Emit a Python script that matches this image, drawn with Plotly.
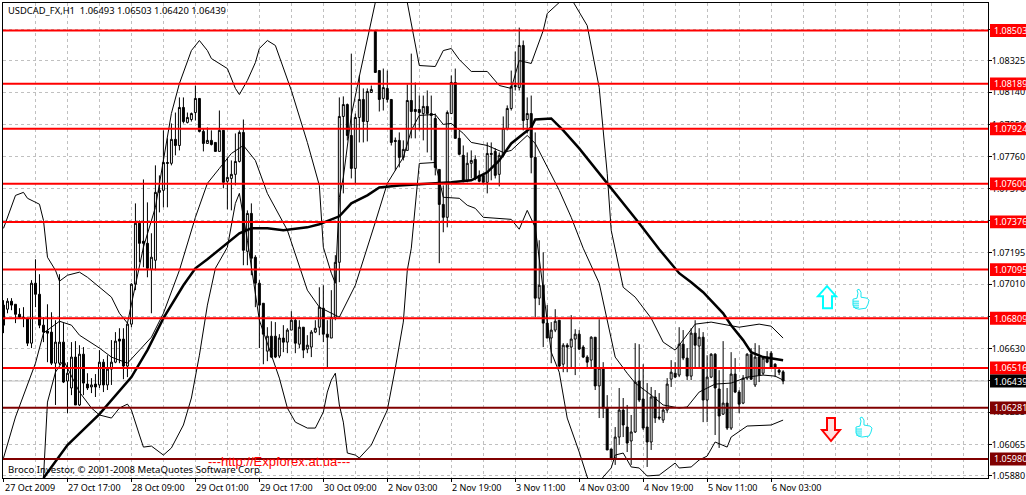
import plotly.graph_objects as go

# USDCAD H1 bars
opens = [1.06886, 1.06862, 1.06909, 1.06891, 1.06832, 1.06815, 1.06809, 1.06662, 1.07015, 1.06950, 1.06768, 1.06733, 1.06727, 1.06544, 1.06544, 1.06668,
         1.06439, 1.06398, 1.06580, 1.06298, 1.06597, 1.06421, 1.06404, 1.06421, 1.06416, 1.06550, 1.06416, 1.06509, 1.06550, 1.06686, 1.06686, 1.06527,
         1.06774, 1.07009, 1.07368, 1.07262, 1.07250, 1.07097, 1.07150, 1.07550, 1.07562, 1.07726, 1.07721, 1.07862, 1.07826, 1.08050, 1.07962, 1.07979,
         1.08020, 1.08103, 1.07909, 1.07838, 1.07856, 1.07844, 1.07791, 1.07915, 1.07615, 1.07632, 1.07656, 1.07732, 1.07903, 1.07203, 1.07426, 1.07168,
         1.07015, 1.06897, 1.06615, 1.06703, 1.06703, 1.06586, 1.06692, 1.06668, 1.06739, 1.06797, 1.06656, 1.06756, 1.06627, 1.06639, 1.06727, 1.06756,
         1.06868, 1.06715, 1.06692, 1.06815, 1.07138, 1.07997, 1.08067, 1.07885, 1.07691, 1.07991, 1.08097, 1.07967, 1.08138, 1.08497, 1.08267, 1.08103,
         1.08162, 1.08097, 1.07856, 1.07856, 1.07756, 1.07797, 1.08091, 1.08038, 1.08038, 1.08014, 1.08056, 1.08014, 1.07985, 1.07685, 1.07479, 1.07403,
         1.08014, 1.08197, 1.07868, 1.07768, 1.07621, 1.07721, 1.07744, 1.07650, 1.07650, 1.07609, 1.07779, 1.07791, 1.07656, 1.07768, 1.07927, 1.08044,
         1.08179, 1.08167, 1.08415, 1.07979, 1.08014, 1.07756, 1.06927, 1.07003, 1.06780, 1.06692, 1.06739, 1.06797, 1.06538, 1.06650, 1.06639, 1.06686,
         1.06715, 1.06639, 1.06580, 1.06562, 1.06697, 1.06410, 1.06515, 1.06280, 1.06039, 1.05986, 1.06109, 1.06268, 1.06168, 1.06086, 1.06139, 1.06439,
         1.06333, 1.06168, 1.06080, 1.06345, 1.06227, 1.06209, 1.06268, 1.06450, 1.06485, 1.06474, 1.06656, 1.06574, 1.06468, 1.06721, 1.06645, 1.06697,
         1.06327, 1.06462, 1.06597, 1.06392, 1.06244, 1.06309, 1.06162, 1.06480, 1.06374, 1.06309, 1.06456, 1.06597, 1.06416, 1.06580, 1.06485, 1.06580,
         1.06603, 1.06538, 1.06503, 1.06493]
highs = [1.06915, 1.06927, 1.06927, 1.06891, 1.06868, 1.06874, 1.06809, 1.07033, 1.07156, 1.07068, 1.06815, 1.06891, 1.06844, 1.06797, 1.07068, 1.06780,
         1.06550, 1.06668, 1.06674, 1.06650, 1.06639, 1.06485, 1.06456, 1.06480, 1.06621, 1.06568, 1.06591, 1.06680, 1.06727, 1.06750, 1.06750, 1.06786,
         1.07015, 1.07485, 1.07385, 1.07626, 1.07491, 1.07309, 1.07709, 1.07650, 1.07915, 1.07868, 1.07956, 1.08020, 1.08109, 1.08109, 1.08020, 1.08020,
         1.08179, 1.08103, 1.07927, 1.07932, 1.07915, 1.07844, 1.08032, 1.07915, 1.07756, 1.07738, 1.07897, 1.07915, 1.07979, 1.07444, 1.07485, 1.07180,
         1.07033, 1.06897, 1.06756, 1.06791, 1.06786, 1.06715, 1.06768, 1.06750, 1.06850, 1.06809, 1.06797, 1.06756, 1.06709, 1.06739, 1.06797, 1.06991,
         1.07003, 1.06797, 1.06974, 1.07180, 1.08109, 1.08115, 1.08073, 1.08367, 1.08014, 1.08238, 1.08162, 1.08162, 1.08179, 1.08503, 1.08267, 1.08279,
         1.08267, 1.08097, 1.07873, 1.07903, 1.07856, 1.08185, 1.08367, 1.08197, 1.08120, 1.08120, 1.08150, 1.08120, 1.08014, 1.07685, 1.07591, 1.08032,
         1.08238, 1.08279, 1.07915, 1.07826, 1.07785, 1.07797, 1.07768, 1.07679, 1.07662, 1.07844, 1.07844, 1.07809, 1.07785, 1.07997, 1.08062, 1.08267,
         1.08379, 1.08520, 1.08444, 1.08109, 1.08120, 1.07903, 1.07268, 1.07197, 1.06886, 1.06786, 1.06862, 1.06797, 1.06662, 1.06662, 1.06827, 1.06744,
         1.06739, 1.06650, 1.06591, 1.06703, 1.06697, 1.06803, 1.06550, 1.06356, 1.06039, 1.06168, 1.06398, 1.06339, 1.06298, 1.06239, 1.06662, 1.06656,
         1.06538, 1.06427, 1.06404, 1.06386, 1.06368, 1.06286, 1.06456, 1.06562, 1.06550, 1.06756, 1.06739, 1.06633, 1.06750, 1.06797, 1.06750, 1.06727,
         1.06591, 1.06603, 1.06603, 1.06503, 1.06674, 1.06398, 1.06609, 1.06574, 1.06386, 1.06474, 1.06603, 1.06633, 1.06662, 1.06650, 1.06580, 1.06615,
         1.06615, 1.06544, 1.06521, 1.06503]
lows = [1.06721, 1.06838, 1.06856, 1.06780, 1.06809, 1.06756, 1.06645, 1.06633, 1.06874, 1.06750, 1.06668, 1.06550, 1.06533, 1.06298, 1.06533, 1.06427,
        1.06250, 1.06356, 1.06298, 1.06292, 1.06356, 1.06386, 1.06368, 1.06345, 1.06398, 1.06374, 1.06386, 1.06416, 1.06544, 1.06544, 1.06450, 1.06462,
        1.06756, 1.06974, 1.07138, 1.07109, 1.07050, 1.06838, 1.07091, 1.07432, 1.07462, 1.07462, 1.07709, 1.07768, 1.07797, 1.07956, 1.07956, 1.07967,
        1.07973, 1.07903, 1.07791, 1.07838, 1.07826, 1.07791, 1.07791, 1.07574, 1.07450, 1.07444, 1.07591, 1.07726, 1.07121, 1.07121, 1.07062, 1.06874,
        1.06633, 1.06538, 1.06556, 1.06574, 1.06574, 1.06574, 1.06609, 1.06603, 1.06739, 1.06603, 1.06633, 1.06574, 1.06603, 1.06580, 1.06721, 1.06709,
        1.06668, 1.06515, 1.06692, 1.06797, 1.07021, 1.07544, 1.07856, 1.07632, 1.07603, 1.07844, 1.07844, 1.07850, 1.08138, 1.08256, 1.08026, 1.08032,
        1.08079, 1.07826, 1.07679, 1.07697, 1.07738, 1.07797, 1.07868, 1.07868, 1.07915, 1.07856, 1.07785, 1.07738, 1.07650, 1.07133, 1.07315, 1.07344,
        1.08014, 1.07868, 1.07768, 1.07609, 1.07609, 1.07632, 1.07621, 1.07609, 1.07609, 1.07544, 1.07621, 1.07632, 1.07585, 1.07756, 1.07915, 1.08032,
        1.08150, 1.08150, 1.07915, 1.07897, 1.07662, 1.06815, 1.06886, 1.06639, 1.06692, 1.06544, 1.06727, 1.06521, 1.06491, 1.06491, 1.06515, 1.06474,
        1.06621, 1.06574, 1.06515, 1.06515, 1.06386, 1.06221, 1.06221, 1.06033, 1.05980, 1.05945, 1.06062, 1.06109, 1.06021, 1.05945, 1.06133, 1.06315,
        1.06151, 1.05933, 1.06033, 1.06192, 1.06209, 1.06192, 1.06250, 1.06404, 1.06456, 1.06462, 1.06562, 1.06445, 1.06445, 1.06515, 1.06521, 1.06197,
        1.06197, 1.06456, 1.06121, 1.06045, 1.06239, 1.06151, 1.06151, 1.06368, 1.06250, 1.06303, 1.06445, 1.06445, 1.06404, 1.06433, 1.06474, 1.06544,
        1.06521, 1.06462, 1.06474, 1.06420]
closes = [1.06768, 1.06909, 1.06886, 1.06832, 1.06815, 1.06809, 1.06662, 1.07015, 1.06950, 1.06768, 1.06727, 1.06721, 1.06544, 1.06668, 1.06668, 1.06433,
          1.06485, 1.06580, 1.06298, 1.06597, 1.06427, 1.06398, 1.06416, 1.06404, 1.06550, 1.06416, 1.06509, 1.06550, 1.06674, 1.06674, 1.06527, 1.06774,
          1.07009, 1.07368, 1.07250, 1.07250, 1.07103, 1.07168, 1.07550, 1.07562, 1.07726, 1.07721, 1.07862, 1.07826, 1.08050, 1.07967, 1.07991, 1.08014,
          1.08103, 1.07909, 1.07838, 1.07856, 1.07832, 1.07791, 1.07915, 1.07609, 1.07638, 1.07656, 1.07732, 1.07903, 1.07209, 1.07426, 1.07162, 1.07015,
          1.06886, 1.06715, 1.06703, 1.06580, 1.06580, 1.06692, 1.06668, 1.06739, 1.06797, 1.06662, 1.06756, 1.06621, 1.06650, 1.06727, 1.06750, 1.06874,
          1.06715, 1.06697, 1.06815, 1.07138, 1.07997, 1.08067, 1.07885, 1.07691, 1.07991, 1.08097, 1.07967, 1.08144, 1.08156, 1.08256, 1.08097, 1.08167,
          1.08097, 1.07844, 1.07850, 1.07756, 1.07803, 1.08091, 1.08026, 1.08026, 1.08020, 1.08056, 1.08014, 1.08003, 1.07697, 1.07479, 1.07403, 1.08020,
          1.08197, 1.07868, 1.07774, 1.07615, 1.07721, 1.07738, 1.07632, 1.07615, 1.07609, 1.07779, 1.07774, 1.07650, 1.07768, 1.07927, 1.08044, 1.08173,
          1.08173, 1.08415, 1.07973, 1.08014, 1.07756, 1.06927, 1.07003, 1.06780, 1.06692, 1.06739, 1.06791, 1.06527, 1.06650, 1.06639, 1.06686, 1.06715,
          1.06627, 1.06580, 1.06550, 1.06697, 1.06410, 1.06515, 1.06280, 1.06033, 1.05986, 1.06109, 1.06268, 1.06180, 1.06074, 1.06139, 1.06433, 1.06327,
          1.06162, 1.06080, 1.06345, 1.06221, 1.06221, 1.06268, 1.06421, 1.06491, 1.06462, 1.06656, 1.06574, 1.06468, 1.06721, 1.06650, 1.06697, 1.06327,
          1.06462, 1.06597, 1.06398, 1.06233, 1.06309, 1.06162, 1.06480, 1.06374, 1.06303, 1.06456, 1.06597, 1.06450, 1.06580, 1.06474, 1.06574, 1.06550,
          1.06521, 1.06515, 1.06491, 1.06439]

# thick moving average
ma_bars = [10, 14, 16, 24, 32, 36, 40, 45, 48, 51, 54, 59, 62, 66, 70, 76, 79, 84, 87, 91, 94, 99, 104, 109, 112, 117, 121, 124, 127, 132, 133, 137,
           140, 144, 147, 151, 155, 159, 164, 169, 172, 175, 180, 182, 185, 187, 190, 195]
ma_vals = [1.05868, 1.05998, 1.06062, 1.06244, 1.06462, 1.06621, 1.06809, 1.07003, 1.07103, 1.07156, 1.07215, 1.07309, 1.07338, 1.07338, 1.07327,
           1.07344, 1.07362, 1.07409, 1.07485, 1.07532, 1.07579, 1.07591, 1.07597, 1.07603, 1.07609, 1.07621, 1.07668, 1.07738, 1.07838, 1.07932, 1.07979,
           1.07985, 1.07915, 1.07809, 1.07721, 1.07609, 1.07491, 1.07368, 1.07215, 1.07074, 1.07021, 1.06962, 1.06838, 1.06768, 1.06680, 1.06609, 1.06580, 1.06562]

# thin bands
upper_bars = [0, 2, 3, 5, 6, 9, 10, 11, 13, 14, 16, 19, 21, 27, 29, 31, 34, 35, 38, 42, 44, 47, 49, 51, 52, 54, 56, 58, 59, 61, 63, 64, 66, 68, 72, 76,
              79, 80, 82, 83, 84, 85, 87, 89, 91, 92, 93, 97, 101, 104, 108, 110, 112, 114, 117, 121, 124, 127, 129, 132, 135, 136, 139, 142, 146, 149,
              151, 152, 154, 155, 158, 160, 162, 165, 168, 169, 173, 177, 184, 189, 192, 195]
upper_vals = [1.07338, 1.07474, 1.07532, 1.07550, 1.07515, 1.07480, 1.07385, 1.07168, 1.07091, 1.07027, 1.07062, 1.07080, 1.07050, 1.06933, 1.06838,
              1.06780, 1.07109, 1.07227, 1.07462, 1.08015, 1.08191, 1.08385, 1.08444, 1.08385, 1.08338, 1.08309, 1.08279, 1.08162, 1.08126, 1.08209,
              1.08314, 1.08397, 1.08444, 1.08415, 1.08150, 1.07844, 1.07591, 1.07227, 1.07074, 1.07015, 1.07520, 1.07638, 1.08003, 1.08232, 1.08444,
              1.08562, 1.08668, 1.08826, 1.08668, 1.08297, 1.08291, 1.08385, 1.08397, 1.08332, 1.08262, 1.08262, 1.08179, 1.08162, 1.08326, 1.08309,
              1.08503, 1.08603, 1.08668, 1.08691, 1.08532, 1.08167, 1.07662, 1.07327, 1.07103, 1.06991, 1.06933, 1.06874, 1.06809, 1.06668, 1.06621,
              1.06650, 1.06774, 1.06786, 1.06756, 1.06774, 1.06762, 1.06692]
mid_bars = [0, 3, 8, 10, 12, 14, 17, 19, 24, 27, 31, 34, 37, 40, 44, 48, 51, 54, 57, 60, 63, 66, 71, 76, 79, 84, 88, 93, 96, 100, 102, 104, 108, 110, 112,
            115, 117, 121, 125, 127, 131, 133, 136, 139, 142, 145, 149, 151, 153, 156, 158, 162, 165, 169, 171, 174, 178, 182, 186, 190, 193, 195]
mid_vals = [1.05986, 1.06227, 1.06544, 1.06721, 1.06756, 1.06791, 1.06768, 1.06709, 1.06633, 1.06580, 1.06544, 1.06621, 1.06697, 1.06838, 1.07091, 1.07403,
            1.07603, 1.07691, 1.07779, 1.07826, 1.07738, 1.07544, 1.07327, 1.06974, 1.06874, 1.06815, 1.07003, 1.07374, 1.07603, 1.07756, 1.07915, 1.08003,
            1.08009, 1.07950, 1.07956, 1.07897, 1.07844, 1.07826, 1.07785, 1.07797, 1.07885, 1.07838, 1.07697, 1.07562, 1.07403, 1.07221, 1.07015, 1.06797,
            1.06580, 1.06485, 1.06427, 1.06356, 1.06298, 1.06280, 1.06286, 1.06374, 1.06421, 1.06427, 1.06462, 1.06474, 1.06468, 1.06445]
lower_bars = [8, 10, 11, 13, 15, 19, 22, 24, 27, 29, 31, 32, 34, 35, 37, 39, 40, 42, 45, 47, 49, 51, 53, 56, 58, 59, 61, 64, 67, 69, 71, 73, 76, 78, 80, 81,
              82, 83, 84, 85, 86, 88, 89, 92, 96, 98, 100, 101, 102, 104, 108, 110, 114, 116, 118, 120, 127, 129, 131, 133, 137, 139, 141, 144, 146, 148,
              150, 152, 153, 155, 157, 159, 161, 164, 168, 169, 172, 174, 176, 178, 181, 182, 186, 192, 195]
lower_vals = [1.05680, 1.05868, 1.06315, 1.06491, 1.06562, 1.06374, 1.06280, 1.06239, 1.06221, 1.06280, 1.06303, 1.06268, 1.06121, 1.06050, 1.06056, 1.06021,
              1.06003, 1.06045, 1.06180, 1.06339, 1.06591, 1.06886, 1.07103, 1.07227, 1.07485, 1.07544, 1.07268, 1.06797, 1.06591, 1.06456, 1.06280, 1.06197,
              1.06162, 1.06162, 1.06256, 1.06374, 1.06445, 1.06485, 1.06298, 1.06197, 1.06015, 1.06003, 1.05986, 1.06062, 1.06268, 1.06515, 1.06786, 1.07091,
              1.07221, 1.07720, 1.07726, 1.07521, 1.07515, 1.07474, 1.07456, 1.07403, 1.07391, 1.07333, 1.07444, 1.07344, 1.06609, 1.06491, 1.06221, 1.06021,
              1.05874, 1.05798, 1.05874, 1.05927, 1.06003, 1.06015, 1.05933, 1.05927, 1.05880, 1.05885, 1.05956, 1.05927, 1.05933, 1.05974, 1.05997, 1.06080,
              1.06050, 1.06109, 1.06174, 1.06180, 1.06209]

# horizontal levels
red_levels = [1.08503, 1.08189, 1.07924, 1.07600, 1.07376, 1.07095, 1.06809, 1.06516]
dark_levels = [1.06281, 1.05980]
last_price = 1.06439

price_ticks = [1.08510, 1.08325, 1.08140, 1.07950, 1.07760, 1.07570, 1.07385, 1.07195, 1.07010, 1.06820, 1.06630, 1.06440, 1.06255, 1.06065, 1.05880]
time_labels = ["27 Oct 2009", "27 Oct 17:00", "28 Oct 09:00", "29 Oct 01:00", "29 Oct 17:00", "30 Oct 09:00", "2 Nov 03:00", "2 Nov 19:00",
               "3 Nov 11:00", "4 Nov 03:00", "4 Nov 19:00", "5 Nov 11:00", "6 Nov 03:00"]
time_bars = list(range(0, 193, 16))

FONT = "Noto Sans"
TEXT_SIZE = 9
GRID = "#c0c0c0"
W, H = 1026, 495
L, R, T, B = 3, 988, 2.5, 478


def px(x, y):
    return (x - L) / (R - L), (B - y) / (B - T)


def outline(points, x0, y0):
    # little icons, given in page pixels from their corner
    parts = []
    for k, (a, b) in enumerate(points):
        xp, yp = px(x0 + a, y0 + b)
        parts.append(("M" if k == 0 else "L") + f"{xp:.5f},{yp:.5f}")
    return " ".join(parts)


def thumb(x0, y0):
    body = [(1, 10), (5, 9), (6, 4), (5, 1), (7, 0), (9, 3), (9, 8), (15, 9), (17, 11), (16, 15), (14, 19), (7, 20), (3, 19), (1, 16)]
    d = outline(body, x0, y0) + " Z"
    for b in (12, 14, 16, 18):
        d += " " + outline([(1, b), (7, b)], x0, y0)
    return dict(type="path", xref="paper", yref="paper", path=d, line=dict(color="#19e6f0", width=1), fillcolor="white")


fig = go.Figure()
bars = list(range(len(opens)))
for xs, ys in [(upper_bars, upper_vals), (mid_bars, mid_vals), (lower_bars, lower_vals)]:
    fig.add_trace(go.Scatter(x=xs, y=ys, mode="lines", line=dict(color="black", width=1), hoverinfo="skip"))
fig.add_trace(go.Candlestick(x=bars, open=opens, high=highs, low=lows, close=closes, whiskerwidth=0,
                             increasing=dict(line=dict(color="black", width=1), fillcolor="white"),
                             decreasing=dict(line=dict(color="black", width=1), fillcolor="black")))
fig.add_trace(go.Scatter(x=ma_bars, y=ma_vals, mode="lines", line=dict(color="black", width=2.5), hoverinfo="skip"))

shapes = [dict(type="line", xref="paper", yref="y", x0=0, x1=1, y0=last_price, y1=last_price, layer="below", line=dict(color=GRID, width=1))]
annotations = []


def price_box(level, bg):
    x0, _ = px(990, 0)
    x1, _ = px(1027, 0)
    tx, _ = px(993, 0)
    shapes.append(dict(type="rect", xref="paper", yref="y", x0=x0, x1=x1, y0=level - 0.00038, y1=level + 0.00038, fillcolor=bg, line=dict(width=0)))
    annotations.append(dict(xref="paper", yref="y", x=tx, y=level, text=f"{level:.5f}", showarrow=False, xanchor="left", yanchor="middle",
                            borderpad=0, font=dict(family=FONT, size=TEXT_SIZE, color="white")))


for lv in red_levels:
    shapes.append(dict(type="line", xref="paper", yref="y", x0=0, x1=1, y0=lv, y1=lv, line=dict(color="#ff0000", width=2)))
    price_box(lv, "#ff0000")
for lv in dark_levels:
    shapes.append(dict(type="line", xref="paper", yref="y", x0=0, x1=1, y0=lv, y1=lv, line=dict(color="#800000", width=2)))
    price_box(lv, "#800000")
price_box(last_price, "black")

# arrows and thumbs on the right
up_arrow = [(9, 0), (18, 10), (14, 10), (14, 22), (5, 22), (5, 10), (0, 10)]
down_arrow = [(5, 0), (13, 0), (13, 12), (18, 12), (9, 23), (0, 12), (5, 12)]
shapes.append(dict(type="path", xref="paper", yref="paper", path=outline(up_arrow, 818, 286) + " Z", line=dict(color="#00ffff", width=2), fillcolor="white"))
shapes.append(dict(type="path", xref="paper", yref="paper", path=outline(down_arrow, 822, 418) + " Z", line=dict(color="#ff0000", width=2), fillcolor="#ffe0e0"))
shapes.append(thumb(852, 289))
shapes.append(thumb(855, 417))

for bar, label in zip(time_bars, time_labels):
    annotations.append(dict(xref="x", yref="paper", x=bar, y=px(0, 488)[1], text=label, showarrow=False, xanchor="left", yanchor="middle",
                            xshift=-1, font=dict(family=FONT, size=TEXT_SIZE, color="black")))

for text, x, y, size, color, family in [
    ("USDCAD_FX,H1  1.06493 1.06503 1.06420 1.06439", 7, 10, 9.4, "black", FONT),
    ("Broco Investor, © 2001-2008 MetaQuotes Software Corp.", 7, 469, 9.6, "black", FONT),
    ("---http://Expforex.at.ua---", 207, 461, 13, "#ff0000", "Liberation Sans"),
]:
    xp, yp = px(x, y)
    annotations.append(dict(xref="paper", yref="paper", x=xp, y=yp, text=text, showarrow=False, xanchor="left", yanchor="middle",
                            borderpad=0, font=dict(family=family, size=size, color=color)))

fig.update_layout(
    width=W, height=H, margin=dict(l=L, r=W - R, t=T, b=H - B, autoexpand=False),
    paper_bgcolor="white", plot_bgcolor="white", showlegend=False,
    shapes=shapes, annotations=annotations,
    xaxis=dict(range=[-0.125, 246.25], rangeslider=dict(visible=False), showgrid=False, zeroline=False,
               tickmode="array", tickvals=time_bars, showticklabels=False, ticks="outside", ticklen=3, tickcolor="black",
               minor=dict(tickmode="linear", tick0=0, dtick=8, showgrid=True, gridcolor=GRID, griddash="3px,3px", gridwidth=1, ticks=""),
               showline=True, linecolor="black", linewidth=1, mirror=True),
    yaxis=dict(side="right", range=[1.05868, 1.08665], tickmode="array", tickvals=price_ticks, ticktext=[f"{p:.5f}" for p in price_ticks],
               showgrid=True, gridcolor=GRID, griddash="3px,3px", gridwidth=1, zeroline=False, ticks="outside", ticklen=3, tickcolor="black",
               ticklabelstandoff=-2, tickfont=dict(family=FONT, size=TEXT_SIZE, color="black"), showline=True, linecolor="black", linewidth=1, mirror=True),
)

fig.write_html("out.html", config=dict(displayModeBar=False),
               post_script="document.body.style.margin='0';document.documentElement.style.overflow='hidden';")
